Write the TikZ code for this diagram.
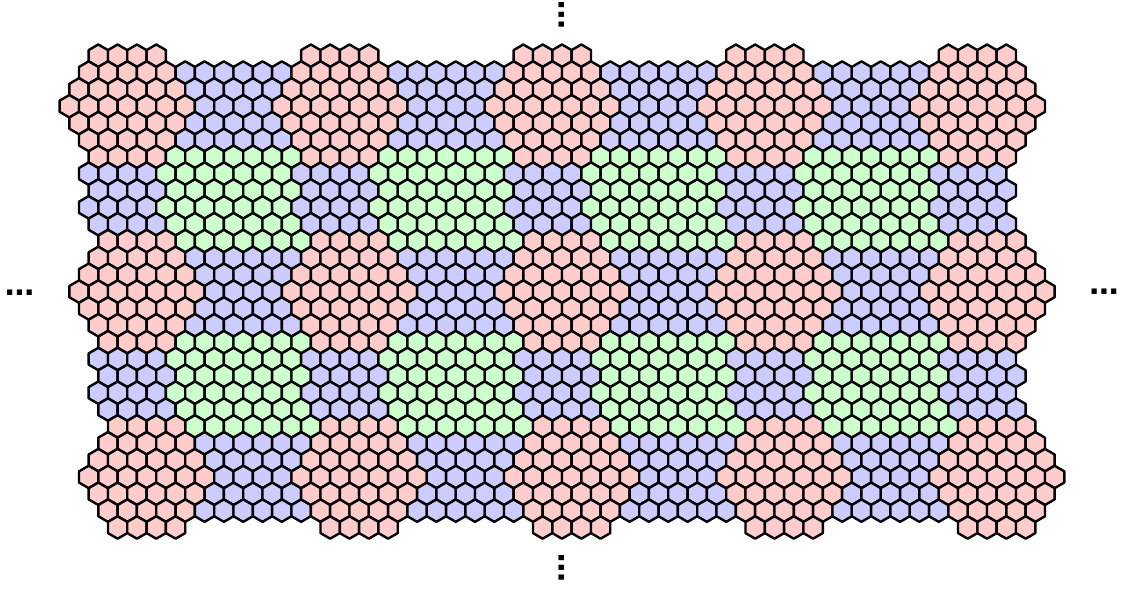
\documentclass[tikz,border=0pt]{standalone}
\usepackage{fontspec}
\setmainfont{DejaVu Sans}

\definecolor{islandpink}{RGB}{255,204,204}
\definecolor{bandblue}{RGB}{204,204,255}
\definecolor{patchgreen}{RGB}{204,255,204}

\tikzset{
  hexcell/.style={draw=black, line width=1.8pt, line join=round},
  moredots/.style={inner sep=0pt, font=\bfseries\fontsize{22}{22}\selectfont},
}

% one hexagon: row #1, half-column #2, fill #3 (pixel units, y downwards)
\newcommand\hexat[3]{%
  \pgfmathsetmacro\hx{98.3+9.66*(#2)}%
  \pgfmathsetmacro\hy{55.7+16.85*(#1)}%
  \filldraw[hexcell, fill=#3] (\hx,\hy-11.2) -- ++(9.66,5.6) -- ++(0,11.2)
    -- ++(-9.66,5.6) -- ++(-9.66,-5.6) -- ++(0,-11.2) -- cycle;}

% a run of hexagons in row #1, half-columns #2 to #3 in steps of 2
\newcommand\hexrun[4]{%
  \pgfmathtruncatemacro\rowno{#1}%
  \pgfmathtruncatemacro\ufirst{#2}%
  \pgfmathtruncatemacro\usecond{#2+2}%
  \pgfmathtruncatemacro\ulast{#3}%
  \foreach \uu in {\ufirst,\usecond,...,\ulast} {\hexat{\rowno}{\uu}{#4}}}

\begin{document}
\begin{tikzpicture}[x=0.75pt, y=-0.75pt]
  \useasboundingbox (0,0) rectangle (1122,591);

  % one period: pink island, blue wedge to its right, blue strip and green patch below
  % the next island down is 11 rows and 1 half-column away, the next to the right 22 half-columns
  \foreach \i in {0,1,2} {
    \foreach \j in {0,...,4} {
      \pgfmathtruncatemacro\drow{11*\i}
      \pgfmathtruncatemacro\dcol{\i+22*\j}
      % pink hexagonal island
      \foreach \rw/\ufrom/\uto in {0/0/6, 1/-1/7, 2/-2/8, 3/-3/9, 4/-2/8, 5/-1/7, 6/0/6}
        {\hexrun{\rw+\drow}{\ufrom+\dcol}{\uto+\dcol}{islandpink}}
      % blue wedge between two islands of a row
      \ifnum\j<4
        \foreach \rw/\ufrom/\uto in {1/9/19, 2/10/18, 3/11/17, 4/10/18, 5/9/19}
          {\hexrun{\rw+\drow}{\ufrom+\dcol}{\uto+\dcol}{bandblue}}
      \fi
      \ifnum\i<2
        % blue strip under the island
        \foreach \rw/\ufrom/\uto in {7/-1/5, 8/0/6, 9/-1/5, 10/0/6}
          {\hexrun{\rw+\drow}{\ufrom+\dcol}{\uto+\dcol}{bandblue}}
        % green patch
        \ifnum\j<4
          \foreach \rw/\ufrom/\uto in {6/8/20, 7/7/19, 8/8/20, 9/7/19, 10/8/20, 11/9/21}
            {\hexrun{\rw+\drow}{\ufrom+\dcol}{\uto+\dcol}{patchgreen}}
        \fi
      \fi
    }
  }

  % the pattern goes on
  \node[moredots] (dotsleft) at (19.5,292.5) {…};
  \node[moredots] (dotsright) at (1104,292) {…};
  \node[moredots, rotate=90] (dotstop) at (561.5,14.5) {…};
  \node[moredots, rotate=90] (dotsbottom) at (561.5,568) {…};
\end{tikzpicture}
\end{document}
